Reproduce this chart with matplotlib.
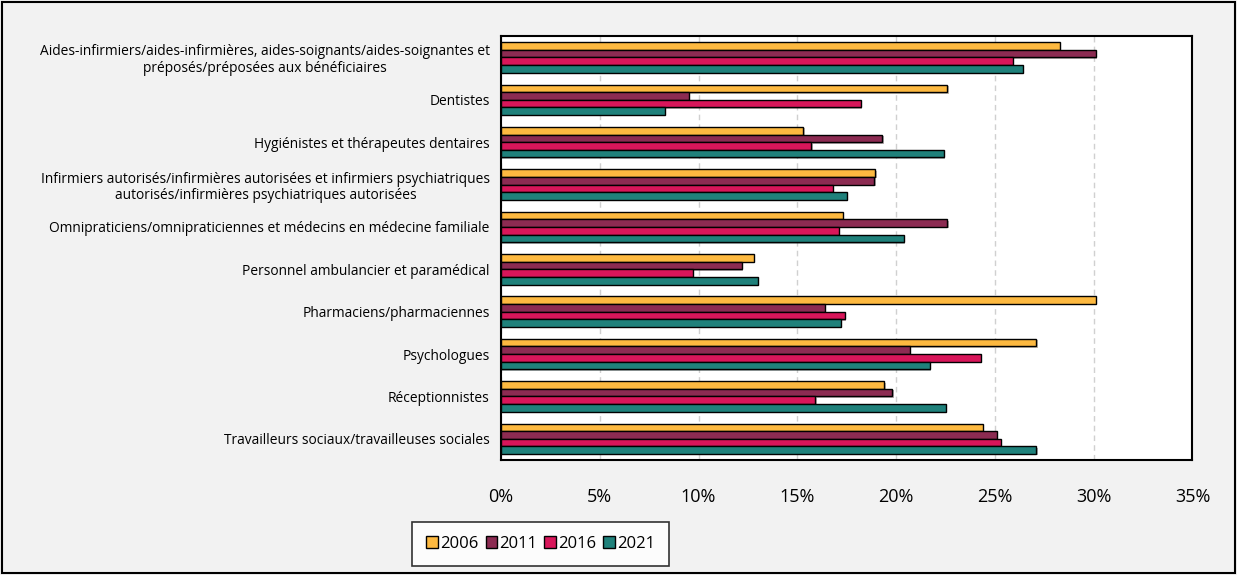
import matplotlib.pyplot as plt
import numpy as np
from matplotlib.patches import Rectangle
import matplotlib.patheffects as pe

categories = [
    "Aides-infirmiers/aides-infirmières, aides-soignants/aides-soignantes et\npréposés/préposées aux bénéficiaires",
    "Dentistes",
    "Hygiénistes et thérapeutes dentaires",
    "Infirmiers autorisés/infirmières autorisées et infirmiers psychiatriques\nautorisés/infirmières psychiatriques autorisées",
    "Omnipraticiens/omnipraticiennes et médecins en médecine familiale",
    "Personnel ambulancier et paramédical",
    "Pharmaciens/pharmaciennes",
    "Psychologues",
    "Réceptionnistes",
    "Travailleurs sociaux/travailleuses sociales",
]
years = ["2006", "2011", "2016", "2021"]
v2006 = [28.3, 22.6, 15.3, 18.95, 17.3, 12.8, 30.1, 27.1, 19.4, 24.4]
v2011 = [30.1, 9.5, 19.3, 18.9, 22.6, 12.2, 16.4, 20.7, 19.8, 25.1]
v2016 = [25.9, 18.2, 15.7, 16.8, 17.1, 9.7, 17.4, 24.3, 15.9, 25.3]
v2021 = [26.4, 8.3, 22.4, 17.5, 20.4, 13.0, 17.2, 21.7, 22.5, 27.1]
colors = ["#FDB940", "#8C2B52", "#D8165A", "#1F817B"]

plt.rcParams['font.family'] = ['Open Sans', 'DejaVu Sans']

fig = plt.figure(figsize=(12.37, 5.75), dpi=100)
fig.patch.set_facecolor("#F2F2F2")
fig.patches.append(Rectangle((0.002, 0.003), 0.996, 0.994, transform=fig.transFigure,
                             fill=False, edgecolor="black", linewidth=1.5))
ax = fig.add_axes([0.405, 0.200, 0.559, 0.737])
ax.set_facecolor("white")

y = np.arange(len(categories))
h = 0.18
series = [v2006, v2011, v2016, v2021]
shadow = [pe.SimplePatchShadow(offset=(1, -1), alpha=0.35), pe.Normal()]
for i, (vals, col, yr) in enumerate(zip(series, colors, years)):
    bars = ax.barh(y + (i - 1.5) * h, np.array(vals) / 100, height=h, color=col,
                   edgecolor="black", linewidth=1.0, label=yr, zorder=3)
    for b in bars:
        b.set_path_effects(shadow)

ax.set_ylim(len(categories) - 0.5, -0.5)
ax.set_xlim(0, 0.35)
ticks = np.arange(0, 0.36, 0.05)
ax.set_xticks(ticks)
ax.set_xticklabels([f"{int(round(t * 100))}%" for t in ticks], fontsize=13)
ax.tick_params(axis="x", length=0, pad=20)
ax.set_yticks(y)
ax.set_yticklabels(categories, fontsize=9.9, multialignment="center", linespacing=1.15)
ax.tick_params(axis="y", length=0, pad=8)
ax.grid(axis="x", color="#D0D0D0", linestyle=(0, (4, 3)), linewidth=1.0, zorder=0)
for s in ax.spines.values():
    s.set_color("black")
    s.set_linewidth(1.5)

leg = fig.legend(loc="center", bbox_to_anchor=(0.437, 0.054), ncol=4, fontsize=12,
                 frameon=True, fancybox=False, edgecolor="black", handlelength=0.7,
                 handleheight=0.7, handletextpad=0.1, columnspacing=0.45, borderpad=0.85)
leg.get_frame().set_linewidth(1.2)
leg.get_frame().set_facecolor("white")
for hnd in leg.legend_handles:
    hnd.set_path_effects([])

fig.savefig("out.png", dpi=100, facecolor=fig.get_facecolor())
